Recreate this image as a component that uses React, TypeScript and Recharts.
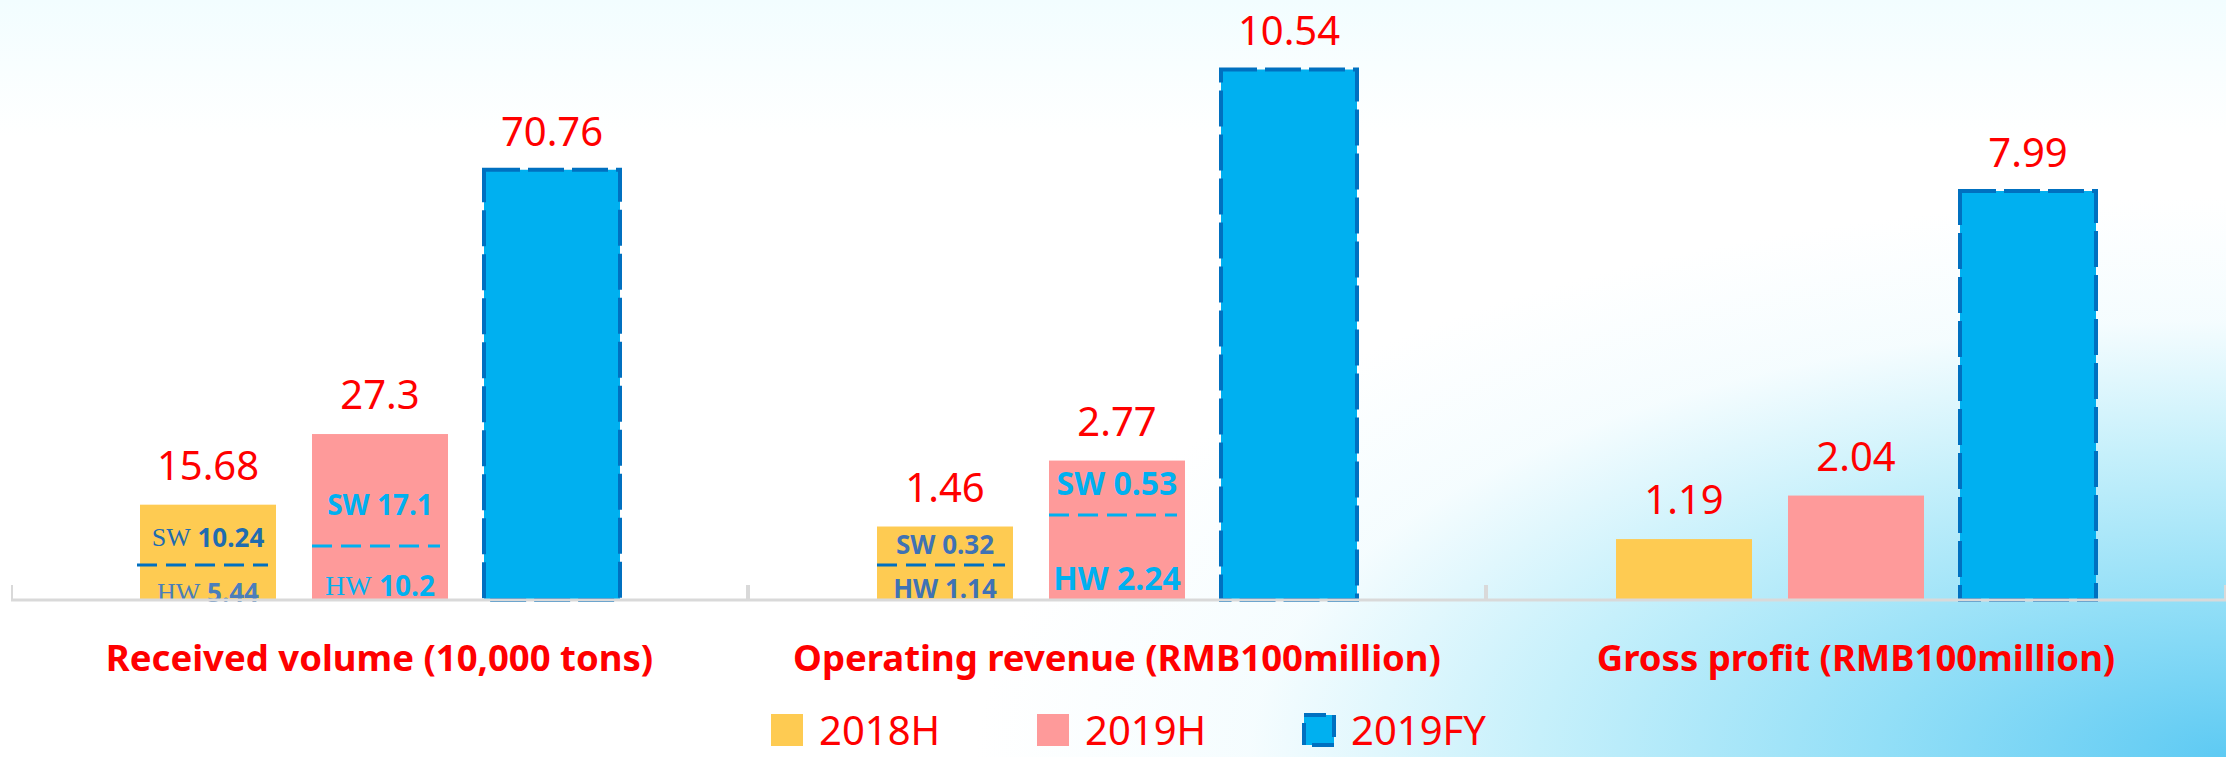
import { BarChart, Bar, XAxis, YAxis, LabelList, Legend } from "recharts";

const seriesNames = ["2018H", "2019H", "2019FY"];
const categories = [
  "Received volume (10,000 tons)",
  "Operating revenue (RMB100million)",
  "Gross profit (RMB100million)",
];
const values2018H = [15.68, 1.46, 1.19];
const values2019H = [27.3, 2.77, 2.04];
const values2019FY = [70.76, 10.54, 7.99];

// SW / HW breakdown written inside the half-year bars
const sw2018H = ["10.24", "0.32", null];
const hw2018H = ["5.44", "1.14", null];
const sw2019H = ["17.1", "0.53", null];
const hw2019H = ["10.2", "2.24", null];

// each panel has its own value scale
const axisMax = [98.7, 11.92, 11.72];

const panelLeft = [11, 748, 1486];
const panelWidth = [737, 738, 740];

const colors = { h18: "#fecb52", h19: "#fe9a9a", fy: "#00b0f0", fyBorder: "#0070c0" };

type Note = {
  dash: number;
  sw: number;
  hw: number;
  size: number;
  swColor: string;
  hwColor: string;
  dashColor: string;
  serifSW: boolean;
  serifHW: boolean;
};

const notes: Record<string, Note> = {
  "0-0": { dash: 35, sw: 63, hw: 8, size: 26, swColor: "#1f6cb0", hwColor: "#4a7ebb", dashColor: "#0070c0", serifSW: true, serifHW: true },
  "0-1": { dash: 54, sw: 96, hw: 15, size: 28, swColor: "#00b0f0", hwColor: "#00b0f0", dashColor: "#00b0f0", serifSW: false, serifHW: true },
  "1-0": { dash: 35, sw: 56, hw: 12, size: 26, swColor: "#3f72b5", hwColor: "#3f72b5", dashColor: "#0070c0", serifSW: false, serifHW: false },
  "1-1": { dash: 85, sw: 118, hw: 23, size: 32, swColor: "#00b0f0", hwColor: "#00b0f0", dashColor: "#00b0f0", serifSW: false, serifHW: false },
};

const serif = "'Liberation Serif', serif";

const makeShape =
  (panel: number, series: number, sw: (string | null)[], hw: (string | null)[]) =>
  (props: any) => {
    const { x, y, width, height, fill } = props;
    const note = notes[`${panel}-${series}`];
    const bottom = y + height;
    const cx = x + width / 2;
    return (
      <g>
        <rect x={x} y={y} width={width} height={height} fill={fill} />
        {note && sw[panel] && (
          <g fontWeight={700} fontSize={note.size}>
            <text x={cx} y={bottom - note.sw} textAnchor="middle" dominantBaseline="central" fill={note.swColor}>
              {note.serifSW ? (
                <tspan fontFamily={serif} fontWeight={400}>SW</tspan>
              ) : (
                "SW"
              )}
              {" " + sw[panel]}
            </text>
            <line
              x1={x - (panel === 0 && series === 0 ? 3 : 0)}
              x2={x + width - 8}
              y1={bottom - note.dash}
              y2={bottom - note.dash}
              stroke={note.dashColor}
              strokeWidth={3}
              strokeDasharray="20 9"
            />
            <text x={cx} y={bottom - note.hw} textAnchor="middle" dominantBaseline="central" fill={note.hwColor}>
              {note.serifHW ? (
                <tspan fontFamily={serif} fontWeight={400}>HW</tspan>
              ) : (
                "HW"
              )}
              {" " + hw[panel]}
            </text>
          </g>
        )}
      </g>
    );
  };

const renderLegend = ({ payload }: any) => {
  const items = seriesNames
    .map((n) => (payload || []).find((p: any) => p.value === n))
    .filter(Boolean);
  return (
    <div style={{ display: "flex" }}>
      {items.map((entry: any) => {
        const isFY = entry.value === seriesNames[2];
        return (
          <div key={entry.value} style={{ display: "flex", alignItems: "center", width: 266, height: 50 }}>
            <svg width={34} height={34} style={{ flexShrink: 0 }}>
              {isFY ? (
                <rect x={2} y={2} width={30} height={30} fill={colors.fy} stroke={colors.fyBorder} strokeWidth={4} strokeDasharray="22 8" />
              ) : (
                <rect x={1} y={1} width={32} height={32} fill={entry.color} />
              )}
            </svg>
            <span style={{ marginLeft: 15, fontSize: 40, color: "#ff0000", lineHeight: "50px", whiteSpace: "nowrap" }}>
              {entry.value}
            </span>
          </div>
        );
      })}
    </div>
  );
};

const Panel = ({ index }: { index: number }) => {
  const data = [
    {
      name: categories[index],
      h18: values2018H[index],
      h19: values2019H[index],
      fy: values2019FY[index],
    },
  ];
  const w = panelWidth[index];
  return (
    <div style={{ position: "absolute", left: panelLeft[index], top: 0 }}>
      <BarChart
        width={w}
        height={757}
        data={data}
        margin={{ top: 0, right: 0, bottom: 0, left: 0 }}
        barSize={136}
        barGap={36}
        style={{ overflow: "visible" }}
      >
        <XAxis
          dataKey="name"
          height={157}
          interval={0}
          tickLine={false}
          tickSize={0}
          tickMargin={45}
          axisLine={{ stroke: "#d9d9d9", strokeWidth: 3 }}
          tick={{ fill: "#ff0000", fontSize: 36.5, fontWeight: 700 }}
        />
        <YAxis hide domain={[0, axisMax[index]]} />
        <Bar dataKey="h18" name={seriesNames[0]} fill={colors.h18} isAnimationActive={false} shape={makeShape(index, 0, sw2018H, hw2018H)}>
          <LabelList dataKey="h18" position="top" offset={25} fill="#ff0000" fontSize={40} />
        </Bar>
        <Bar dataKey="h19" name={seriesNames[1]} fill={colors.h19} isAnimationActive={false} shape={makeShape(index, 1, sw2019H, hw2019H)}>
          <LabelList dataKey="h19" position="top" offset={25} fill="#ff0000" fontSize={40} />
        </Bar>
        <Bar
          dataKey="fy"
          name={seriesNames[2]}
          fill={colors.fy}
          stroke={colors.fyBorder}
          strokeWidth={4}
          strokeDasharray="36 8"
          isAnimationActive={false}
        >
          <LabelList dataKey="fy" position="top" offset={24} fill="#ff0000" fontSize={40} />
        </Bar>
        {index === 1 && (
          <Legend
            verticalAlign="middle"
            align="center"
            content={renderLegend}
            wrapperStyle={{ top: 705, left: 22, width: 820, height: 50 }}
          />
        )}
        <line x1={1} x2={1} y1={585} y2={600} stroke="#d9d9d9" strokeWidth={2} />
        <line x1={w - 1} x2={w - 1} y1={585} y2={600} stroke="#d9d9d9" strokeWidth={2} />
      </BarChart>
    </div>
  );
};

export default function App() {
  return (
    <div
      style={{
        position: "absolute",
        left: 0,
        top: 0,
        width: 2226,
        height: 757,
        overflow: "hidden",
        fontFamily: "'Noto Sans', sans-serif",
        background:
          "radial-gradient(ellipse 1250px 560px at 100% 100%, #5ecaf3 0%, #93dff7 28%, #c6f0fb 55%, rgba(235,250,254,0.5) 78%, rgba(255,255,255,0) 100%), linear-gradient(to bottom, #f2fdff 0%, #ffffff 18%, #ffffff 100%)",
      }}
    >
      {[0, 1, 2].map((i) => (
        <Panel key={i} index={i} />
      ))}
    </div>
  );
}
